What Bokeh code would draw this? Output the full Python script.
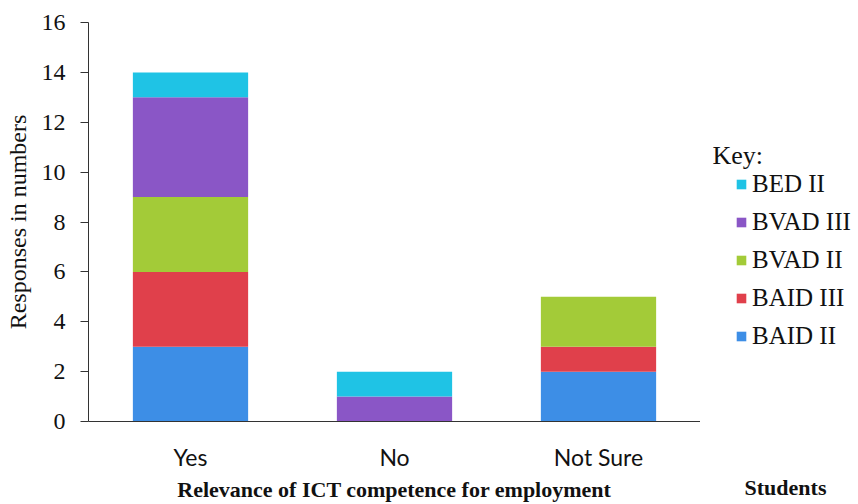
from bokeh.plotting import figure
from bokeh.models import Legend, LegendItem, Label, FactorRange, FixedTicker
from bokeh.layouts import row
from bokeh.embed import file_html
from bokeh.resources import INLINE

categories = ["Yes", "No", "Not Sure"]
series = ["BAID II", "BAID III", "BVAD II", "BVAD III", "BED II"]
baid_ii = [3, 0, 2]
baid_iii = [3, 0, 1]
bvad_ii = [3, 0, 2]
bvad_iii = [4, 1, 0]
bed_ii = [1, 1, 0]
colors = ["#3D8EE6", "#E0404B", "#A3CB38", "#8A56C6", "#1FC3E5"]
y_ticks = [0, 2, 4, 6, 8, 10, 12, 14, 16]

data = {"cat": categories, "BAID II": baid_ii, "BAID III": baid_iii,
        "BVAD II": bvad_ii, "BVAD III": bvad_iii, "BED II": bed_ii}

TXT = "#111111"

p = figure(x_range=FactorRange(*categories, range_padding=0), y_range=(0, 16),
           width=700, height=504, output_backend="svg", toolbar_location=None,
           min_border_left=88, min_border_right=0, min_border_top=22, min_border_bottom=81)

p.vbar_stack(series, x="cat", width=0.565, color=colors, line_color=None, source=data)

p.grid.visible = False
p.outline_line_color = None

p.yaxis.ticker = y_ticks
p.yaxis.major_tick_out = 8
p.yaxis.major_tick_in = 0
p.yaxis.minor_tick_line_color = None
p.yaxis.axis_line_color = "#333333"
p.yaxis.major_tick_line_color = "#333333"
p.yaxis.major_label_text_font = "Liberation Serif"
p.yaxis.major_label_text_font_size = "24px"
p.yaxis.major_label_text_color = TXT
p.yaxis.major_label_standoff = 15
p.yaxis.axis_label = "Responses in numbers"
p.yaxis.axis_label_text_font = "Liberation Serif"
p.yaxis.axis_label_text_font_style = "normal"
p.yaxis.axis_label_text_font_size = "24px"
p.yaxis.axis_label_text_color = TXT
p.yaxis.axis_label_standoff = 8

p.xaxis.major_tick_line_color = None
p.xaxis.minor_tick_line_color = None
p.xaxis.axis_line_color = "#333333"
p.xaxis.major_label_text_font = "Lato"
p.xaxis.major_label_text_font_size = "23px"
p.xaxis.major_label_text_color = TXT
p.xaxis.major_label_standoff = 15
p.xaxis.axis_label = "Relevance of ICT competence for employment"
p.xaxis.axis_label_text_font = "Liberation Serif"
p.xaxis.axis_label_text_font_style = "bold"
p.xaxis.axis_label_text_font_size = "22px"
p.xaxis.axis_label_text_color = TXT
p.xaxis.axis_label_standoff = 3

# side panel holding the key and the "Students" caption
k = figure(width=158, height=504, x_range=(0, 1), y_range=(0, 1),
           output_backend="svg", toolbar_location=None,
           min_border_left=12, min_border_right=0, min_border_top=22, min_border_bottom=81)
k.yaxis.visible = False
k.grid.visible = False
k.outline_line_color = None
k.xaxis.ticker = FixedTicker(ticks=[])
k.xaxis.axis_line_color = None
k.xaxis.major_tick_line_color = None
k.xaxis.minor_tick_line_color = None
k.xaxis.axis_label = "Students"
k.xaxis.axis_label_text_font = "Liberation Serif"
k.xaxis.axis_label_text_font_style = "bold"
k.xaxis.axis_label_text_font_size = "22px"
k.xaxis.axis_label_text_color = TXT
k.xaxis.axis_label_standoff = 53

# legend swatches: glyphs placed outside the visible range, used only by the key
key_renderers = [k.vbar(x=[5], top=[5], bottom=[4], width=1, color=c, line_color=None) for c in colors]

items = [LegendItem(label=s, renderers=[r]) for s, r in zip(series, key_renderers)][::-1]
legend = Legend(items=items, location=(23, 71),
                label_text_font="Liberation Serif", label_text_font_size="25px",
                label_text_color=TXT, glyph_width=12, glyph_height=12,
                label_height=29, spacing=9, label_standoff=5,
                padding=0, margin=0, border_line_color=None, background_fill_alpha=0)
k.add_layout(legend, "center")

k.add_layout(Label(x=0, y=266, x_units="screen", y_units="screen", text="Key:",
                   text_font="Liberation Serif", text_font_size="26px",
                   text_color=TXT, text_baseline="middle"))

layout = row(p, k, spacing=0)
open("out.html", "w").write(file_html(layout, INLINE))
